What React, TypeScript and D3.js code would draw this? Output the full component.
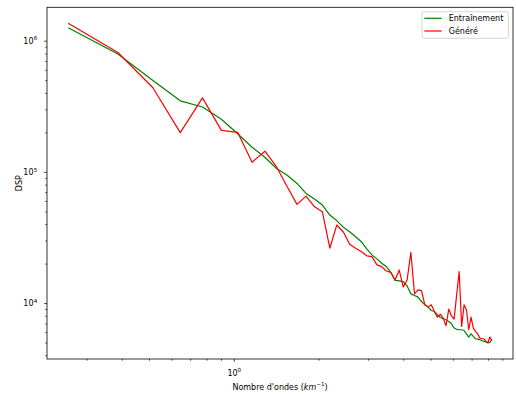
import React from 'react';
import * as d3 from 'd3';

// Wavenumber (km^-1)
const wavenumbers = [
  0.257, 0.386, 0.514, 0.643, 0.771, 0.900, 1.028, 1.157, 1.285, 1.414,
  1.542, 1.671, 1.799, 1.928, 2.056, 2.185, 2.313, 2.442, 2.570, 2.699,
  2.827, 2.956, 3.084, 3.213, 3.341, 3.470, 3.598, 3.727, 3.855, 3.984,
  4.112, 4.241, 4.369, 4.498, 4.626, 4.755, 4.883, 5.012, 5.140, 5.269,
  5.397, 5.526, 5.654, 5.783, 5.911, 6.040, 6.168, 6.297, 6.425, 6.554,
  6.682, 6.811, 6.939, 7.068, 7.196, 7.325, 7.453, 7.582, 7.710, 7.839,
  7.967, 8.096, 8.224,
];

// "Entraînement" PSD
const trainPSD = [
  1.265e6, 7.99e5, 5.02e5, 3.51e5, 3.15e5, 2.54e5, 1.97e5, 1.555e5, 1.305e5, 1.07e5,
  9.52e4, 8.23e4, 6.91e4, 6.26e4, 5.63e4, 4.73e4, 4.29e4, 3.81e4, 3.53e4, 3.23e4,
  2.96e4, 2.61e4, 2.35e4, 2.19e4, 2.03e4, 1.91e4, 1.73e4, 1.50e4, 1.49e4, 1.47e4,
  1.363e4, 1.185e4, 1.15e4, 1.12e4, 1.036e4, 9.77e3, 9.39e3, 8.85e3, 8.70e3, 8.21e3,
  7.82e3, 7.65e3, 7.52e3, 7.30e3, 7.01e3, 6.50e3, 6.36e3, 6.31e3, 6.31e3, 6.23e3,
  5.88e3, 5.55e3, 5.88e3, 5.61e3, 5.39e3, 5.36e3, 5.30e3, 5.23e3, 5.14e3, 5.09e3,
  5.00e3, 5.05e3, 5.30e3,
];

// "Généré" PSD
const genPSD = [
  1.37e6, 8.2e5, 4.42e5, 2.01e5, 3.70e5, 2.09e5, 2.02e5, 1.196e5, 1.45e5, 1.10e5,
  7.76e4, 5.70e4, 6.59e4, 5.46e4, 5.01e4, 2.64e4, 3.97e4, 3.51e4, 2.83e4, 2.64e4,
  2.49e4, 2.31e4, 2.28e4, 1.97e4, 1.91e4, 1.77e4, 1.73e4, 1.51e4, 1.80e4, 1.34e4,
  1.51e4, 2.46e4, 1.185e4, 1.27e4, 1.255e4, 9.77e3, 9.39e3, 9.77e3, 8.70e3, 7.88e3,
  8.31e3, 7.74e3, 6.77e3, 9.07e3, 8.06e3, 7.61e3, 1.165e4, 1.75e4, 6.69e3, 9.77e3,
  8.96e3, 6.31e3, 7.88e3, 6.50e3, 6.13e3, 5.88e3, 5.46e3, 5.39e3, 5.39e3, 5.14e3,
  5.05e3, 5.55e3, 5.20e3,
];

const seriesNames = ['Entraînement', 'Généré'];

const W = 516;
const H = 394;
const PL = 47, PR = 513, PT = 7.3, PB = 359;
const FONT = 'DejaVu Sans, sans-serif';

function padLog(ext: [number, number], frac = 0.05): [number, number] {
  const a = Math.log10(ext[0]);
  const b = Math.log10(ext[1]);
  const w = b - a;
  return [Math.pow(10, a - frac * w), Math.pow(10, b + frac * w)];
}

function isMajor(v: number) {
  const l = Math.log10(v);
  return Math.abs(l - Math.round(l)) < 1e-9;
}

export default function App() {
  const x = d3.scaleLog()
    .domain(padLog(d3.extent(wavenumbers) as [number, number]))
    .range([PL, PR]);
  const y = d3.scaleLog()
    .domain(padLog(d3.extent([...trainPSD, ...genPSD]) as [number, number]))
    .range([PB, PT]);

  const line = d3.line<number>()
    .x((_, i) => x(wavenumbers[i]))
    .y((d) => y(d));

  const xTicks = x.ticks().filter((t) => t >= x.domain()[0] && t <= x.domain()[1]);
  const yTicks = y.ticks().filter((t) => t >= y.domain()[0] && t <= y.domain()[1]);

  const series = [
    { name: seriesNames[0], data: trainPSD, color: '#008000' },
    { name: seriesNames[1], data: genPSD, color: '#ff0000' },
  ];

  return (
    <svg
      width={W}
      height={H}
      style={{ position: 'absolute', left: 0, top: 0, background: '#fff' }}
      fontFamily={FONT}
    >
      <rect x={0} y={0} width={W} height={H} fill="#fff" />
      <defs>
        <clipPath id="plotclip">
          <rect x={PL} y={PT} width={PR - PL} height={PB - PT} />
        </clipPath>
      </defs>

      {/* lines */}
      <g clipPath="url(#plotclip)">
        {series.map((s) => (
          <path
            key={s.name}
            d={line(s.data) || ''}
            fill="none"
            stroke={s.color}
            strokeWidth={1.2}
            strokeLinejoin="round"
          />
        ))}
      </g>

      {/* frame */}
      <rect x={PL} y={PT} width={PR - PL} height={PB - PT} fill="none" stroke="#000" strokeWidth={0.8} />

      {/* x ticks */}
      {xTicks.map((t, i) => {
        const major = isMajor(t);
        const px = x(t);
        return (
          <g key={'xt' + i}>
            <line x1={px} x2={px} y1={PB} y2={PB + (major ? 2.9 : 1.7)} stroke="#000" strokeWidth={0.7} />
            {major && (
              <text x={px} y={376} textAnchor="middle" fontSize={8} fill="#000">
                10
                <tspan fontSize={5.6} dy={-3.6}>{Math.round(Math.log10(t))}</tspan>
              </text>
            )}
          </g>
        );
      })}

      {/* y ticks */}
      {yTicks.map((t, i) => {
        const major = isMajor(t);
        const py = y(t);
        return (
          <g key={'yt' + i}>
            <line x1={PL - (major ? 2.9 : 1.7)} x2={PL} y1={py} y2={py} stroke="#000" strokeWidth={0.7} />
            {major && (
              <text x={33.5} y={py + 2.9} textAnchor="end" fontSize={8} fill="#000">
                10
              </text>
            )}
            {major && (
              <text x={33.7} y={py - 0.8} textAnchor="start" fontSize={5.6} fill="#000">
                {Math.round(Math.log10(t))}
              </text>
            )}
          </g>
        );
      })}

      {/* axis labels */}
      <text x={(PL + PR) / 2} y={390} textAnchor="middle" fontSize={8} fill="#000">
        Nombre d'ondes (
        <tspan fontStyle="italic">km</tspan>
        <tspan fontSize={5.6} dy={-3.6}>−1</tspan>
        <tspan dy={3.6}>)</tspan>
      </text>
      <text
        transform={`translate(21.5, ${(PT + PB) / 2}) rotate(-90)`}
        textAnchor="middle"
        fontSize={8}
        fill="#000"
      >
        DSP
      </text>

      {/* legend */}
      <g>
        <rect x={422} y={11.7} width={86.3} height={26.6} rx={2} fill="#fff" fillOpacity={0.8} stroke="#ccc" strokeWidth={0.8} />
        {series.map((s, i) => {
          const ly = 18.3 + i * 12.7;
          return (
            <g key={'lg' + i}>
              <line x1={424.3} x2={441.7} y1={ly} y2={ly} stroke={s.color} strokeWidth={1.2} />
              <text x={448.7} y={ly + 2.9} fontSize={8} fill="#000">{s.name}</text>
            </g>
          );
        })}
      </g>
    </svg>
  );
}
